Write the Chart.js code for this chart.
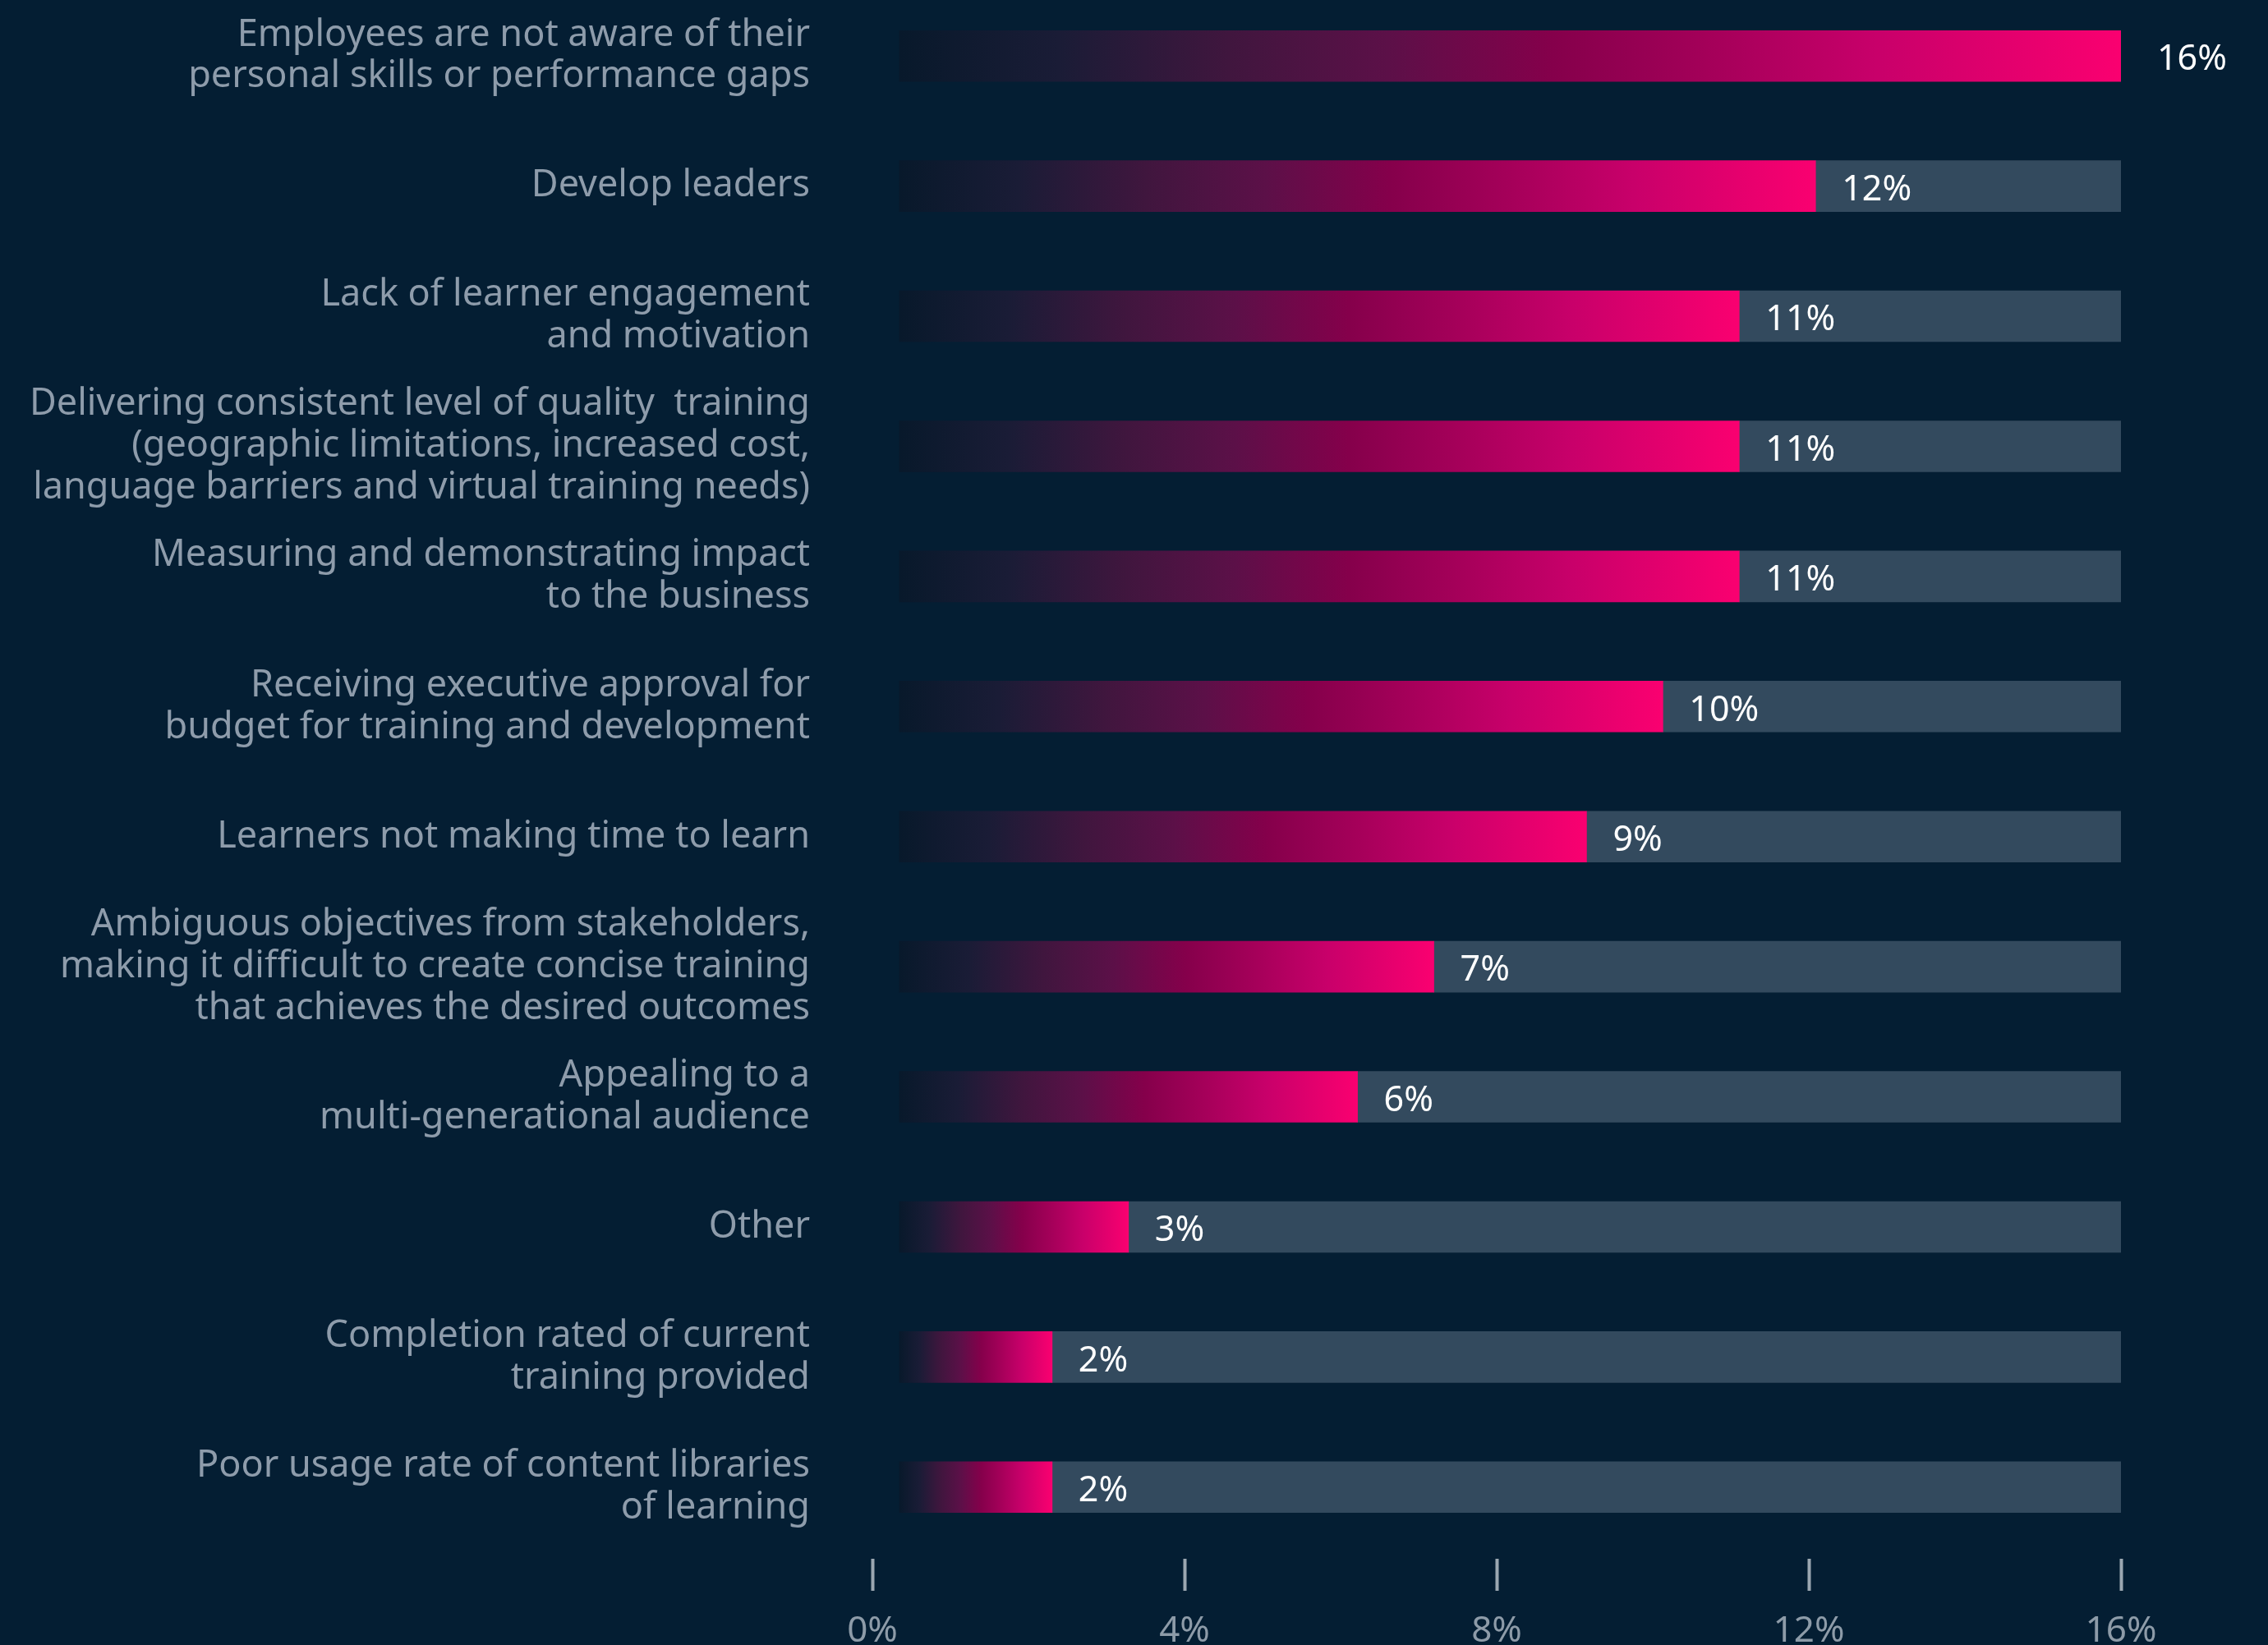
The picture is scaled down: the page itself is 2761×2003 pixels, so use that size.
<!DOCTYPE html>
<html>
<head>
<meta charset="utf-8">
<script src="https://cdn.jsdelivr.net/npm/chart.js@4"></script>
<style>
  html, body { margin: 0; padding: 0; background: #041e33; overflow: hidden; }
  #wrap { position: relative; width: 2761px; height: 2003px; }
  #myChart { position: absolute; left: 0; top: -11px; }
</style>
</head>
<body>
<div id="wrap">
  <canvas id="myChart" width="2761" height="2021"></canvas>
</div>
<script>
var categories = [
    ["Employees are not aware of their", "personal skills or performance gaps"],
    "Develop leaders",
    ["Lack of learner engagement", "and motivation"],
    ["Delivering consistent level of quality  training", "(geographic limitations, increased cost,", "language barriers and virtual training needs)"],
    ["Measuring and demonstrating impact", "to the business"],
    ["Receiving executive approval for", "budget for training and development"],
    "Learners not making time to learn",
    ["Ambiguous objectives from stakeholders,", "making it difficult to create concise training", "that achieves the desired outcomes"],
    ["Appealing to a", "multi-generational audience"],
    "Other",
    ["Completion rated of current", "training provided"],
    ["Poor usage rate of content libraries", "of learning"]
];
var values = [16, 12, 11, 11, 11, 10, 9, 7, 6, 3, 2, 2];
var tickValues = [0, 4, 8, 12, 16];
var scaleMax = 16;

Chart.defaults.font.family = "'Noto Sans', 'Open Sans', sans-serif";

// dark navy -> deep magenta -> hot pink, stretched over each bar
function barFill(c) {
    var chart = c.chart;
    if (!chart.chartArea || c.raw == null) return '#f50070';
    var sx = chart.scales.x;
    var x0 = sx.getPixelForValue(0);
    var x1 = sx.getPixelForValue(c.raw);
    var g = chart.ctx.createLinearGradient(x0, 0, x1, 0);
    g.addColorStop(0, '#08192b');
    g.addColorStop(0.13, '#1a1c36');
    g.addColorStop(0.27, '#40163e');
    g.addColorStop(0.40, '#5c1048');
    g.addColorStop(0.535, '#85004b');
    g.addColorStop(0.67, '#a6005a');
    g.addColorStop(0.80, '#c8006a');
    g.addColorStop(1, '#fa0070');
    return g;
}

// percentage text just right of each coloured bar
var valueLabels = {
    id: 'valueLabels',
    afterDatasetsDraw: function (chart) {
        var meta = chart.getDatasetMeta(0);
        var ctx = chart.ctx;
        ctx.save();
        ctx.fillStyle = '#ffffff';
        ctx.font = "43px 'Noto Sans', sans-serif";
        ctx.textAlign = 'left';
        ctx.textBaseline = 'middle';
        meta.data.forEach(function (bar, i) {
            var pad = values[i] >= scaleMax ? 44 : 32;
            ctx.fillText(values[i] + '%', bar.x + pad, bar.y + 5);
        });
        ctx.restore();
    }
};

var ctx = document.getElementById('myChart').getContext('2d');

var myChart = new Chart(ctx, {
    type: 'bar',
    data: {
        labels: categories,
        datasets: [{
            label: 'Share',
            data: values,
            backgroundColor: barFill,
            barThickness: 62,
            order: 1
        }, {
            label: 'Remainder',
            data: values.map(function (v) { return [v, scaleMax]; }),
            backgroundColor: '#334a5e',
            barThickness: 62,
            order: 2
        }]
    },
    options: {
        indexAxis: 'y',
        responsive: false,
        animation: false,
        layout: {
            padding: { left: 0, right: 179, top: 0, bottom: 0 }
        },
        datasets: {
            bar: { grouped: false, borderWidth: 0 }
        },
        plugins: {
            legend: { display: false },
            tooltip: { enabled: false }
        },
        scales: {
            x: {
                type: 'linear',
                display: false,
                min: -0.355,
                max: scaleMax
            },
            xt: {
                type: 'linear',
                axis: 'x',
                position: 'bottom',
                min: 0,
                max: scaleMax,
                afterBuildTicks: function (s) {
                    s.ticks = tickValues.map(function (v) { return { value: v }; });
                },
                afterFit: function (s) { s.height = 120; },
                border: { display: false },
                grid: {
                    drawOnChartArea: false,
                    drawTicks: true,
                    tickLength: 47,
                    tickWidth: 4,
                    tickColor: '#9ba7b1',
                    tickBorderDash: [0, 8, 40, 80]
                },
                ticks: {
                    color: '#8d9ba8',
                    padding: 23,
                    font: { size: 44 },
                    callback: function (v) { return v + '%'; }
                }
            },
            y: {
                // the category bands start at the very top, labels sit 76px left of the bars
                afterFit: function (s) {
                    s.width = 1062;
                    s.paddingTop = 0;
                    s.paddingBottom = 0;
                },
                border: { display: false },
                grid: { display: false, drawTicks: false },
                ticks: {
                    color: '#8e9cab',
                    padding: 76,
                    autoSkip: false,
                    font: { size: 45, lineHeight: 1.13 }
                }
            }
        }
    },
    plugins: [valueLabels]
});
</script>
</body>
</html>
